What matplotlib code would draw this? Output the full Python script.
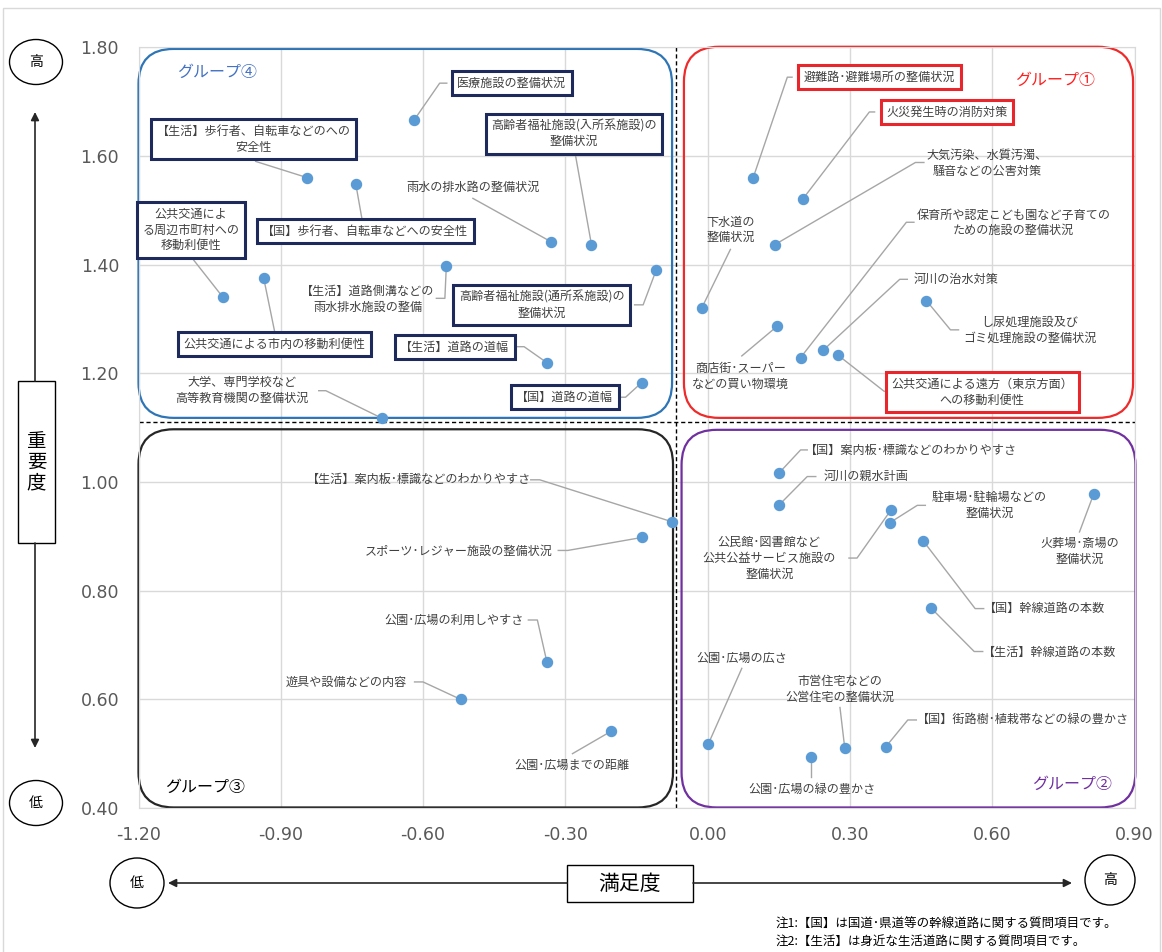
import matplotlib
matplotlib.use('Agg')
import matplotlib.pyplot as plt
from matplotlib.patches import FancyBboxPatch, Ellipse, Rectangle

plt.rcParams['font.family'] = ['Noto Sans CJK JP', 'DejaVu Sans']

# 項目 / 満足度 / 重要度
items = [
    # グループ④
    '医療施設の整備状況', '【生活】歩行者、自転車などのへの安全性', '【国】歩行者、自転車などへの安全性',
    '雨水の排水路の整備状況', '高齢者福祉施設(入所系施設)の整備状況', '公共交通による周辺市町村への移動利便性',
    '公共交通による市内の移動利便性', '【生活】道路側溝などの雨水排水施設の整備', '高齢者福祉施設(通所系施設)の整備状況',
    '【生活】道路の道幅', '【国】道路の道幅', '大学、専門学校など高等教育機関の整備状況',
    # グループ①
    '避難路・避難場所の整備状況', '火災発生時の消防対策', '大気汚染、水質汚濁、騒音などの公害対策',
    '下水道の整備状況', '商店街・スーパーなどの買い物環境', '保育所や認定こども園など子育てのための施設の整備状況',
    '河川の治水対策', '公共交通による遠方(東京方面)への移動利便性', 'し尿処理施設及びゴミ処理施設の整備状況',
    # グループ③
    '【生活】案内板・標識などのわかりやすさ', 'スポーツ・レジャー施設の整備状況', '公園・広場の利用しやすさ',
    '遊具や設備などの内容', '公園・広場までの距離',
    # グループ②
    '【国】案内板・標識などのわかりやすさ', '河川の親水計画', '駐車場・駐輪場などの整備状況',
    '公民館・図書館など公共公益サービス施設の整備状況', '【国】幹線道路の本数', '火葬場・斎場の整備状況',
    '【生活】幹線道路の本数', '公園・広場の広さ', '市営住宅などの公営住宅の整備状況',
    '公園・広場の緑の豊かさ', '【国】街路樹・植栽帯などの緑の豊かさ',
]
satisfaction = [
    -0.619, -0.844, -0.742, -0.330, -0.245, -1.022, -0.936, -0.551, -0.108, -0.338, -0.139, -0.686,
    0.096, 0.200, 0.142, -0.012, 0.147, 0.196, 0.243, 0.274, 0.461,
    -0.076, -0.138, -0.339, -0.521, -0.204,
    0.151, 0.151, 0.384, 0.387, 0.455, 0.814, 0.470, 0.001, 0.289, 0.217, 0.375,
]
importance = [
    1.666, 1.560, 1.549, 1.442, 1.437, 1.340, 1.375, 1.397, 1.391, 1.219, 1.183, 1.117,
    1.560, 1.520, 1.437, 1.321, 1.287, 1.229, 1.242, 1.234, 1.334,
    0.927, 0.898, 0.669, 0.600, 0.541,
    1.017, 0.958, 0.925, 0.949, 0.891, 0.978, 0.769, 0.517, 0.511, 0.493, 0.512,
]
mean_satisfaction = -0.066
mean_importance = 1.110

x_ticks = [-1.20, -0.90, -0.60, -0.30, 0.00, 0.30, 0.60, 0.90]
y_ticks = [0.40, 0.60, 0.80, 1.00, 1.20, 1.40, 1.60, 1.80]

groups = ['グループ①', 'グループ②', 'グループ③', 'グループ④']

NAVY = '#1F2A5C'
RED = '#E8262B'
TXT = '#404040'
LEAD = '#A6A6A6'

# label layout: text, text x, text y, box colour, leader path (from label side)
labels = {
    '医療施設の整備状況': ('医療施設の整備状況', -0.413, 1.734, NAVY, [(-0.550, 1.734), (-0.565, 1.734)]),
    '【生活】歩行者、自転車などのへの安全性': ('【生活】歩行者、自転車などのへの\n安全性', -0.957, 1.631, NAVY, [(-0.953, 1.590)]),
    '【国】歩行者、自転車などへの安全性': ('【国】歩行者、自転車などへの安全性', -0.722, 1.462, NAVY, [(-0.728, 1.480)]),
    '雨水の排水路の整備状況': ('雨水の排水路の整備状況', -0.495, 1.543, None, [(-0.495, 1.522)]),
    '高齢者福祉施設(入所系施設)の整備状況': ('高齢者福祉施設(入所系施設)の\n整備状況', -0.282, 1.641, NAVY, [(-0.279, 1.603)]),
    '公共交通による周辺市町村への移動利便性': ('公共交通によ\nる周辺市町村への\n移動利便性', -1.089, 1.464, NAVY, [(-1.086, 1.411)]),
    '公共交通による市内の移動利便性': ('公共交通による市内の移動利便性', -0.913, 1.254, NAVY, [(-0.913, 1.277)]),
    '【生活】道路側溝などの雨水排水施設の整備': ('【生活】道路側溝などの\n雨水排水施設の整備', -0.717, 1.336, None, [(-0.572, 1.338), (-0.554, 1.338)]),
    '高齢者福祉施設(通所系施設)の整備状況': ('高齢者福祉施設(通所系施設)の\n整備状況', -0.350, 1.325, NAVY, [(-0.154, 1.326), (-0.136, 1.326)]),
    '【生活】道路の道幅': ('【生活】道路の道幅', -0.533, 1.248, NAVY, [(-0.406, 1.249), (-0.387, 1.249)]),
    '【国】道路の道幅': ('【国】道路の道幅', -0.301, 1.156, NAVY, [(-0.191, 1.156), (-0.173, 1.156)]),
    '大学、専門学校など高等教育機関の整備状況': ('大学、専門学校など\n高等教育機関の整備状況', -0.981, 1.169, None, [(-0.820, 1.168), (-0.805, 1.168)]),
    '避難路・避難場所の整備状況': ('避難路･避難場所の整備状況', 0.362, 1.745, RED, [(0.178, 1.745), (0.168, 1.745)]),
    '火災発生時の消防対策': ('火災発生時の消防対策', 0.504, 1.681, RED, [(0.352, 1.681), (0.341, 1.681)]),
    '大気汚染、水質汚濁、騒音などの公害対策': ('大気汚染、水質汚濁、\n騒音などの公害対策', 0.589, 1.587, None, [(0.456, 1.588), (0.438, 1.588)]),
    '下水道の整備状況': ('下水道の\n整備状況', 0.049, 1.464, None, [(0.048, 1.428)]),
    '商店街・スーパーなどの買い物環境': ('商店街･スーパー\nなどの買い物環境', 0.070, 1.195, None, [(0.072, 1.232)]),
    '保育所や認定こども園など子育てのための施設の整備状況': ('保育所や認定こども園など子育ての\nための施設の整備状況', 0.645, 1.477, None, [(0.435, 1.478), (0.419, 1.478)]),
    '河川の治水対策': ('河川の治水対策', 0.524, 1.373, None, [(0.421, 1.373), (0.405, 1.373)]),
    '公共交通による遠方(東京方面)への移動利便性': ('公共交通による遠方（東京方面）\nへの移動利便性', 0.579, 1.165, RED, [(0.386, 1.167), (0.372, 1.167)]),
    'し尿処理施設及びゴミ処理施設の整備状況': ('し尿処理施設及び\nゴミ処理施設の整備状況', 0.680, 1.280, None, [(0.529, 1.280), (0.512, 1.280)]),
    '【生活】案内板・標識などのわかりやすさ': ('【生活】案内板･標識などのわかりやすさ', -0.609, 1.004, None, [(-0.373, 1.004), (-0.354, 1.004)]),
    'スポーツ・レジャー施設の整備状況': ('スポーツ･レジャー施設の整備状況', -0.524, 0.873, None, [(-0.315, 0.874), (-0.295, 0.874)]),
    '公園・広場の利用しやすさ': ('公園･広場の利用しやすさ', -0.535, 0.746, None, [(-0.378, 0.746), (-0.359, 0.746)]),
    '遊具や設備などの内容': ('遊具や設備などの内容', -0.762, 0.632, None, [(-0.618, 0.632), (-0.600, 0.632)]),
    '公園・広場までの距離': ('公園･広場までの距離', -0.286, 0.478, None, [(-0.285, 0.500)]),
    '【国】案内板・標識などのわかりやすさ': ('【国】案内板･標識などのわかりやすさ', 0.428, 1.058, None, [(0.210, 1.059), (0.196, 1.059)]),
    '河川の親水計画': ('河川の親水計画', 0.333, 1.010, None, [(0.228, 1.010), (0.210, 1.010)]),
    '駐車場・駐輪場などの整備状況': ('駐車場･駐輪場などの\n整備状況', 0.594, 0.957, None, [(0.459, 0.957), (0.442, 0.957)]),
    '公民館・図書館など公共公益サービス施設の整備状況': ('公民館･図書館など\n公共公益サービス施設の\n整備状況', 0.130, 0.859, None, [(0.298, 0.860), (0.315, 0.860)]),
    '【国】幹線道路の本数': ('【国】幹線道路の本数', 0.711, 0.767, None, [(0.582, 0.767), (0.564, 0.767)]),
    '火葬場・斎場の整備状況': ('火葬場･斎場の\n整備状況', 0.784, 0.873, None, [(0.784, 0.908)]),
    '【生活】幹線道路の本数': ('【生活】幹線道路の本数', 0.721, 0.687, None, [(0.580, 0.688), (0.562, 0.688)]),
    '公園・広場の広さ': ('公園･広場の広さ', 0.072, 0.676, None, [(0.072, 0.657)]),
    '市営住宅などの公営住宅の整備状況': ('市営住宅などの\n公営住宅の整備状況', 0.279, 0.619, None, [(0.279, 0.585)]),
    '公園・広場の緑の豊かさ': ('公園･広場の緑の豊かさ', 0.221, 0.435, None, [(0.217, 0.457)]),
    '【国】街路樹・植栽帯などの緑の豊かさ': ('【国】街路樹･植栽帯などの緑の豊かさ', 0.665, 0.562, None, [(0.440, 0.562), (0.422, 0.562)]),
}

# group frames: x0, x1, y0, y1, colour, title x, title y, title colour
frames = [
    (-0.050, 0.897, 1.118, 1.801, '#EE2A2A', 0.733, 1.739, '#FF2020'),
    (-0.055, 0.902, 0.401, 1.096, '#7030A0', 0.768, 0.443, '#7030A0'),
    (-1.200, -0.073, 0.401, 1.097, '#262626', -1.059, 0.438, '#000000'),
    (-1.200, -0.075, 1.118, 1.797, '#2E75B6', -1.035, 1.754, '#4472C4'),
]

W, H = 1162, 952
fig = plt.figure(figsize=(W / 100, H / 100), dpi=100)
ax = fig.add_axes([138.5 / W, 1 - 808 / H, 996 / W, 760.7 / H])
ax.set_xlim(-1.2, 0.9)
ax.set_ylim(0.4, 1.8)
ax.set_xticks(x_ticks)
ax.set_yticks(y_ticks)
ax.set_xticklabels(['%.2f' % v for v in x_ticks], fontfamily='DejaVu Sans')
ax.set_yticklabels(['%.2f' % v for v in y_ticks], fontfamily='DejaVu Sans')
ax.tick_params(length=0, labelsize=12.5, labelcolor='#595959')
ax.tick_params(axis='y', pad=14)
ax.tick_params(axis='x', pad=13)
ax.grid(True, color='#D9D9D9', lw=1)
ax.set_axisbelow(True)
for s in ax.spines.values():
    s.set_color('#D9D9D9')

ax.axvline(mean_satisfaction, color='black', lw=1, ls=(0, (3, 2)), zorder=1)
ax.axhline(mean_importance, color='black', lw=1, ls=(0, (3, 2)), zorder=1)

aspect = 474 / 543.5
for i, (x0, x1, y0, y1, col, tx, ty, tcol) in enumerate(frames):
    box = FancyBboxPatch((x0, y0), x1 - x0, y1 - y0,
                         boxstyle='round,pad=0,rounding_size=0.074',
                         mutation_aspect=aspect, fc='none', ec=col, lw=1.6,
                         zorder=2, clip_on=False)
    ax.add_patch(box)
    ax.text(tx, ty, groups[i], color=tcol, fontsize=11.5, ha='center', va='center', zorder=5)

for name, x, y in zip(items, satisfaction, importance):
    text, tx, ty, bcol, path = labels[name]
    xs = [p[0] for p in path] + [x]
    ys = [p[1] for p in path] + [y]
    ax.plot(xs, ys, color=LEAD, lw=1, zorder=3)
    kw = {}
    if bcol:
        kw['bbox'] = dict(boxstyle='square,pad=0.45', fc='white', ec=bcol, lw=2.2)
    ax.text(tx, ty, text, fontsize=8.7, color=TXT, ha='center', va='center',
            multialignment='center', linespacing=1.3, zorder=4, **kw)

ax.scatter(satisfaction, importance, s=52, color='#5B9BD5', zorder=6, clip_on=False)

# overlay in pixel units for the axis decorations
ov = fig.add_axes([0, 0, 1, 1], zorder=-1)
ov.set_xlim(0, W)
ov.set_ylim(H, 0)
ov.axis('off')
ov.add_patch(Rectangle((3, 8), W - 5, H, fc='none', ec='#D9D9D9', lw=1))

for (cx, cy, w, h, t) in [(36, 62, 53, 45, '高'), (36, 803, 53, 45, '低'),
                          (137, 883, 54, 50, '低'), (1110, 880, 50, 50, '高')]:
    ov.add_patch(Ellipse((cx, cy), w, h, fc='white', ec='black', lw=1))
    ov.text(cx, cy, t, fontsize=10, ha='center', va='center')

arrow = dict(arrowstyle='-|>', color='#262626', lw=1.2, mutation_scale=12, shrinkA=0, shrinkB=0)
ov.annotate('', xy=(35, 112), xytext=(35, 381), arrowprops=arrow)
ov.annotate('', xy=(35, 748), xytext=(35, 543), arrowprops=arrow)
ov.annotate('', xy=(168, 883), xytext=(567, 883), arrowprops=arrow)
ov.annotate('', xy=(1072, 883), xytext=(693, 883), arrowprops=arrow)

ov.add_patch(Rectangle((18, 381), 37, 162, fc='white', ec='black', lw=1))
ov.text(36.5, 462, '重\n要\n度', fontsize=14, ha='center', va='center', linespacing=1.0)
ov.add_patch(Rectangle((567, 865), 126, 37, fc='white', ec='black', lw=1))
ov.text(630, 884, '満足度', fontsize=15, ha='center', va='center')

ov.text(776, 924, '注1:【国】は国道･県道等の幹線道路に関する質問項目です。', fontsize=9, ha='left', va='center')
ov.text(776, 942, '注2:【生活】は身近な生活道路に関する質問項目です。', fontsize=9, ha='left', va='center')

fig.savefig('out.png', dpi=100)
